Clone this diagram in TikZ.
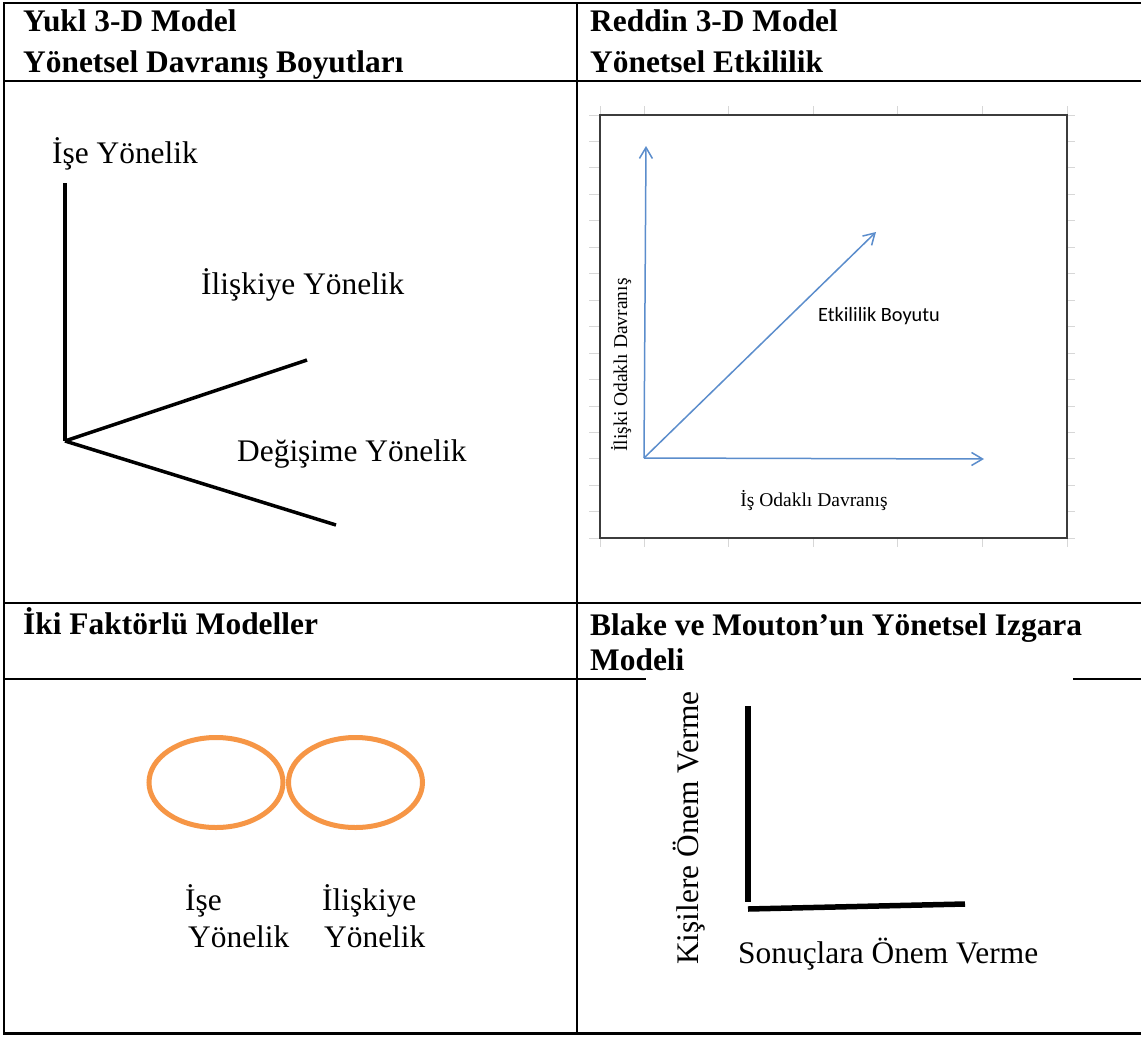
\documentclass[tikz,border=0pt]{standalone}
\usepackage{fontspec}
\setmainfont{Liberation Serif}
\newfontfamily\calibfont{Carlito}
\usetikzlibrary{arrows.meta,shapes.geometric}
\definecolor{axisblue}{RGB}{91,141,204}
\definecolor{ringorange}{RGB}{246,150,70}
\definecolor{framegray}{RGB}{60,60,60}
\definecolor{tickgray}{RGB}{215,215,215}
\begin{document}
\begin{tikzpicture}[x=1pt,y=-1pt,
  rule/.style={line width=2.6pt,black,line cap=rect},
  head/.style={anchor=base west,inner sep=0pt,font=\fontsize{31.4}{36}\selectfont\bfseries},
  lbl/.style={anchor=base west,inner sep=0pt,font=\fontsize{31.4}{36}\selectfont},
  small/.style={inner sep=0pt,font=\fontsize{19.5}{23}\selectfont},
  dimline/.style={line width=3.5pt,black},
  gridline/.style={line width=5.5pt,black},
  bluearr/.style={draw=axisblue,line width=1.5pt,-{Straight Barb[length=11pt,width=13pt]}},
  tick/.style={draw=tickgray,line width=1pt},
  ring/.style={ellipse,draw=ringorange,line width=5pt,minimum width=134pt,minimum height=90pt,inner sep=0pt}]
\useasboundingbox (0,0) rectangle (1141,1037);
\fill[white] (0,0) rectangle (1141,1037);

% table rules
\draw[rule] (4,3) -- (1141,3);
\draw[rule] (4,81) -- (1141,81);
\draw[rule] (4,603) -- (1141,603);
\draw[rule] (4,679) -- (645,679);
\draw[rule] (1074,679) -- (1141,679);
\draw[rule] (4,1033.5) -- (1141,1033.5);
\draw[rule] (4,3) -- (4,1033.5);
\draw[rule] (577,3) -- (577,1033.5);

% header cells
\node[head] (h1a) at (23,31.5) {Yukl 3-D Model};
\node[head] (h1b) at (23,72) {Yönetsel Davranış Boyutları};
\node[head] (h2a) at (590,31.5) {Reddin 3-D Model};
\node[head] (h2b) at (590,72) {Yönetsel Etkililik};
\node[head] (h3) at (23,634) {İki Faktörlü Modeller};
\node[head] (h4a) at (590,635) {Blake ve Mouton’un Yönetsel Izgara};
\node[head] (h4b) at (590,670) {Modeli};

% Yukl: three behaviour dimensions
\coordinate (yo) at (65,441);
\coordinate (ytop) at (65,183);
\coordinate (yrel) at (307,360);
\coordinate (ychg) at (336,525);
\draw[dimline] (ytop) -- (yo);
\draw[dimline] (yo) -- (yrel);
\draw[dimline] (yo) -- (ychg);
\node[lbl] (ytask) at (52,163) {İşe Yönelik};
\node[lbl] (yrell) at (201,294) {İlişkiye Yönelik};
\node[lbl] (ychgl) at (237,461) {Değişime Yönelik};

% Reddin: chart frame with tick marks
\foreach \k in {0,...,16}{
  \draw[tick] (589,115+26.46*\k) -- (600,115+26.46*\k);
  \draw[tick] (1067,115+26.46*\k) -- (1075,115+26.46*\k);
}
\foreach \x in {600,644,728.6,813.2,897.8,982.4,1067}{
  \draw[tick] (\x,106) -- (\x,115);
  \draw[tick] (\x,538) -- (\x,547);
}
\draw[draw=framegray,line width=1.6pt] (600,115) rectangle (1067,538);
\coordinate (ro) at (644,458);
\coordinate (rup) at (646,146);
\coordinate (rright) at (984,459);
\coordinate (rdiag) at (876,232);
\draw[bluearr] (ro) -- (rup);
\draw[bluearr] (ro) -- (rright);
\draw[bluearr] (ro) -- (rdiag);
\node[inner sep=0pt,anchor=base,font=\calibfont\fontsize{20.3}{24}\selectfont] (reff) at (879,321) {Etkililik Boyutu};
\node[small,anchor=base] (rtask) at (814,506) {İş Odaklı Davranış};
\node[small,anchor=base,rotate=90] (rrel) at (627,365) {İlişki Odaklı Davranış};

% two-factor models
\node[ring] (etask) at (216,782.5) {};
\node[ring] (erel) at (355.5,782.5) {};
\node[lbl] (ltask1) at (185,910) {İşe};
\node[lbl] (ltask2) at (188,947) {Yönelik};
\node[lbl] (lrel1) at (322,910) {İlişkiye};
\node[lbl] (lrel2) at (324,947) {Yönelik};

% Blake and Mouton grid
\coordinate (bvt) at (748,706);
\coordinate (bvb) at (748,902);
\coordinate (bhl) at (748,909);
\coordinate (bhr) at (965,904);
\draw[gridline] (bvt) -- (bvb);
\draw[gridline] (bhl) -- (bhr);
\node[lbl] (bres) at (738,963) {Sonuçlara Önem Verme};
\node[inner sep=0pt,anchor=base,rotate=90,font=\fontsize{31.4}{36}\selectfont] (bpeo) at (698,828) {Kişilere Önem Verme};
\end{tikzpicture}
\end{document}
